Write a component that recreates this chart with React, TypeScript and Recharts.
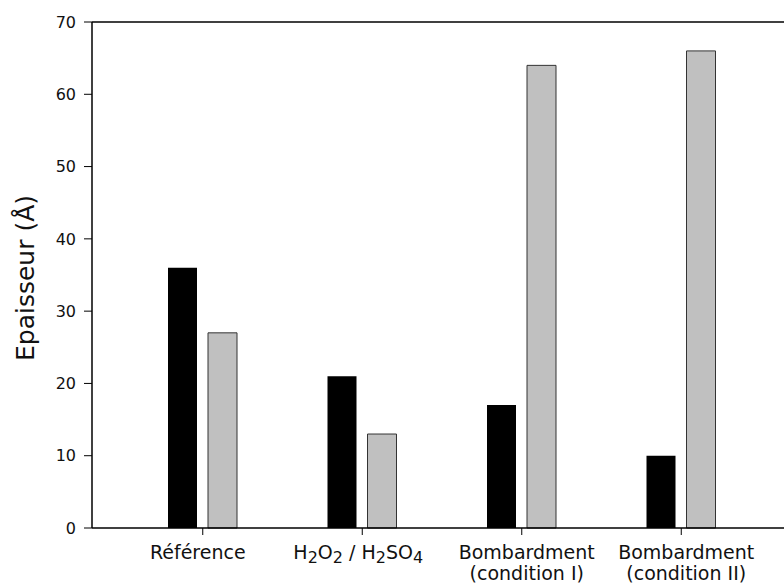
import React from 'react';
import { BarChart, Bar, XAxis, YAxis, ReferenceLine } from 'recharts';

// categories and thickness values (Å)
const categories = ['Référence', 'H2O2 / H2SO4', 'Bombardment\n(condition I)', 'Bombardment\n(condition II)'];
const blackValues = [36, 21, 17, 10];
const grayValues = [27, 13, 64, 66];
const yTicks = [0, 10, 20, 30, 40, 50, 60, 70];

const data = categories.map((name, i) => ({
  name,
  black: blackValues[i],
  gray: grayValues[i],
}));

const FONT = '"DejaVu Sans", Verdana, sans-serif';

// the original labels sit slightly off their ticks
const labelNudge = [-5, -4, 5, 5];

// renders digits as subscripts (for the chemical formulas)
const renderLine = (line: string) => {
  const parts = line.split(/(\d)/).filter((p) => p !== '');
  let shifted = false;
  return parts.map((p, i) => {
    if (/^\d$/.test(p)) {
      const dy = shifted ? 0 : 4;
      shifted = true;
      return (
        <tspan key={i} fontSize={16} dy={dy}>
          {p}
        </tspan>
      );
    }
    const dy = shifted ? -4 : 0;
    shifted = false;
    return (
      <tspan key={i} dy={dy}>
        {p}
      </tspan>
    );
  });
};

const CategoryTick = (props: any) => {
  const { x, y, payload, index } = props;
  const lines = String(payload.value).split('\n');
  const nx = x + (labelNudge[index] ?? 0);
  return (
    <g>
      {lines.map((line, i) => (
        <text
          key={i}
          x={nx}
          y={y + 22 + i * 21}
          textAnchor="middle"
          fontFamily={FONT}
          fontSize={19}
          fill="#111"
        >
          {renderLine(line)}
        </text>
      ))}
    </g>
  );
};

const YLabel = (props: any) => {
  const { viewBox } = props;
  const cy = viewBox.y + viewBox.height / 2 + 3;
  const cx = 34;
  return (
    <text
      x={cx}
      y={cy}
      transform={`rotate(-90 ${cx} ${cy})`}
      textAnchor="middle"
      fontFamily={FONT}
      fontSize={25}
      fill="#111"
    >
      Epaisseur (Å)
    </text>
  );
};

const App = () => {
  return (
    <div style={{ position: 'absolute', left: 0, top: 0, width: 784, height: 586, background: '#fff' }}>
      <BarChart
        width={784}
        height={586}
        data={data}
        margin={{ top: 22, right: 0, bottom: 0, left: 0 }}
        barSize={29}
        barGap={11}
      >
        <XAxis
          dataKey="name"
          height={58}
          padding={{ left: 31, right: 23 }}
          axisLine={{ stroke: '#000', strokeWidth: 1.5 }}
          tickLine={{ stroke: '#000', strokeWidth: 1 }}
          tickSize={7}
          tick={<CategoryTick />}
          interval={0}
        />
        <YAxis
          width={92}
          domain={[0, 70]}
          ticks={yTicks}
          interval={0}
          axisLine={{ stroke: '#000', strokeWidth: 1.5 }}
          tickLine={{ stroke: '#000', strokeWidth: 1 }}
          tickSize={8}
          tickMargin={8}
          tick={{ fill: '#111', fontSize: 16, fontFamily: FONT }}
          label={{ value: 'Epaisseur (Å)', content: <YLabel /> }}
        />
        <ReferenceLine y={70} stroke="#000" strokeWidth={1.5} />
        <Bar dataKey="black" fill="#000" isAnimationActive={false} />
        <Bar dataKey="gray" fill="#c0c0c0" stroke="#333" strokeWidth={1} isAnimationActive={false} />
      </BarChart>
    </div>
  );
};

export default App;
